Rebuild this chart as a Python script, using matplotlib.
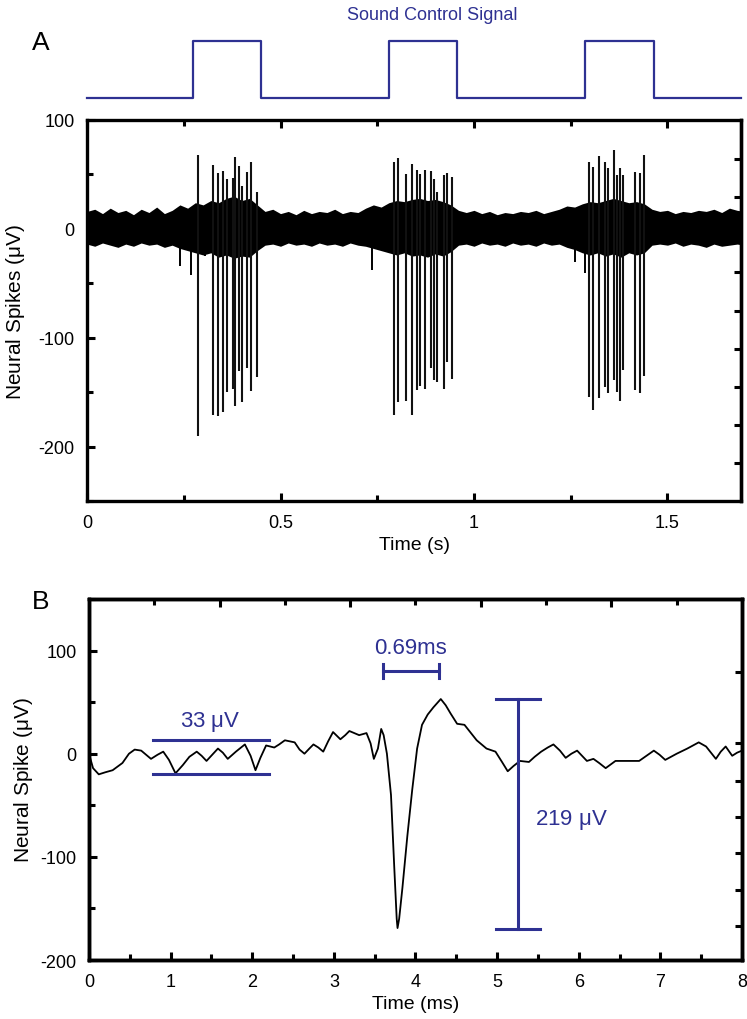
import matplotlib

matplotlib.use("Agg")
import matplotlib.pyplot as plt
from matplotlib.ticker import MultipleLocator

# ---- data ----
# sound control signal: on/off times (s)
pulse_on = [0.275, 0.78, 1.288]
pulse_off = [0.45, 0.955, 1.464]

# large spikes in panel A: time (s), positive peak, negative peak (uV)
spike_t = [0.288, 0.326, 0.338, 0.352, 0.362, 0.376, 0.383, 0.394, 0.401, 0.414, 0.425, 0.438,
           0.793, 0.803, 0.823, 0.840, 0.852, 0.860, 0.873, 0.888, 0.896, 0.904, 0.922, 0.930, 0.943,
           1.298, 1.308, 1.324, 1.339, 1.347, 1.362, 1.370, 1.378, 1.386, 1.415, 1.430, 1.440]
spike_hi = [68, 59, 51, 53, 46, 47, 66, 58, 39, 52, 61, 34,
            61, 65, 50, 60, 54, 50, 54, 53, 46, 34, 49, 51, 48,
            61, 57, 67, 61, 56, 72, 49, 56, 49, 52, 51, 68]
spike_lo = [-190, -171, -172, -168, -150, -147, -163, -131, -159, -128, -149, -136,
            -171, -159, -158, -171, -148, -144, -147, -128, -139, -141, -147, -122, -138,
            -154, -166, -155, -145, -151, -139, -150, -158, -130, -148, -151, -135]

# small deflections just before the bursts
small_t = [0.241, 0.269, 0.304, 0.736, 1.288, 1.262]
small_lo = [-34, -42, -25, -38, -41, -30]

# background noise envelope (uV)
env_t = [0.00, 0.02, 0.04, 0.06, 0.08, 0.10, 0.12, 0.14, 0.16, 0.18, 0.20, 0.22, 0.24, 0.26,
         0.28, 0.30, 0.32, 0.34, 0.36, 0.38, 0.40, 0.42, 0.44, 0.46, 0.48, 0.50, 0.52, 0.54,
         0.56, 0.58, 0.60, 0.62, 0.64, 0.66, 0.68, 0.70, 0.72, 0.74, 0.76, 0.78, 0.80, 0.82,
         0.84, 0.86, 0.88, 0.90, 0.92, 0.94, 0.96, 0.98, 1.00, 1.02, 1.04, 1.06, 1.08, 1.10,
         1.12, 1.14, 1.16, 1.18, 1.20, 1.22, 1.24, 1.26, 1.28, 1.30, 1.32, 1.34, 1.36, 1.38,
         1.40, 1.42, 1.44, 1.46, 1.48, 1.50, 1.52, 1.54, 1.56, 1.58, 1.60, 1.62, 1.64, 1.66,
         1.68, 1.70]
env_hi = [16, 18, 14, 19, 15, 17, 13, 18, 15, 20, 14, 17, 22, 19,
          24, 22, 26, 24, 28, 30, 26, 28, 22, 16, 18, 14, 16, 13,
          17, 14, 16, 15, 18, 14, 16, 15, 19, 22, 20, 24, 26, 25,
          27, 28, 26, 27, 25, 22, 17, 15, 17, 14, 16, 13, 15, 14,
          16, 15, 17, 14, 16, 18, 21, 20, 23, 25, 24, 26, 28, 26,
          24, 25, 23, 18, 16, 17, 14, 16, 15, 17, 16, 18, 15, 19,
          17, 16]
env_lo = [-14, -16, -13, -15, -17, -14, -16, -13, -15, -14, -17, -15, -18, -20,
          -22, -24, -22, -26, -24, -27, -25, -26, -20, -15, -14, -16, -13, -15,
          -14, -16, -13, -15, -14, -16, -13, -15, -16, -18, -20, -22, -24, -22,
          -25, -24, -26, -23, -25, -21, -15, -14, -16, -13, -15, -14, -16, -13,
          -15, -14, -16, -13, -15, -14, -17, -19, -22, -24, -22, -25, -23, -26,
          -22, -24, -22, -15, -14, -15, -13, -16, -14, -15, -17, -14, -16, -15,
          -14, -15]

# averaged spike waveform, panel B: time (ms), amplitude (uV)
wave_t = [0.00, 0.05, 0.12, 0.20, 0.29, 0.41, 0.49, 0.56, 0.64, 0.70, 0.76, 0.84, 0.91, 0.98,
          1.06, 1.15, 1.23, 1.32, 1.38, 1.44, 1.51, 1.58, 1.64, 1.70, 1.80, 1.91, 1.98, 2.04,
          2.10, 2.17, 2.27, 2.33, 2.40, 2.52, 2.58, 2.64, 2.70, 2.75, 2.81, 2.87, 2.93, 2.99,
          3.08, 3.14, 3.19, 3.25, 3.31, 3.40, 3.45, 3.49, 3.54, 3.58, 3.61, 3.65, 3.70, 3.74,
          3.77, 3.78, 3.80, 3.84, 3.90, 3.96, 4.02, 4.08, 4.15, 4.22, 4.31, 4.37, 4.43, 4.51,
          4.60, 4.68, 4.75, 4.87, 4.98, 5.06, 5.13, 5.20, 5.28, 5.39, 5.46, 5.54, 5.62, 5.69,
          5.77, 5.84, 5.91, 5.98, 6.04, 6.10, 6.18, 6.25, 6.33, 6.45, 6.60, 6.74, 6.83, 6.92,
          6.99, 7.06, 7.20, 7.33, 7.40, 7.47, 7.56, 7.62, 7.68, 7.74, 7.80, 7.88, 7.94, 8.00]
wave_v = [0, -14, -20, -18, -16, -9, 0, 4, 3, -1, -5, -1, 2, -6,
          -19, -11, -3, 2, -2, -7, -1, 5, 1, -5, 2, 9, -2, -16,
          -4, 8, 6, 9, 13, 11, 4, 0, 5, 9, 6, 2, 12, 21,
          14, 18, 22, 20, 18, 20, 10, -5, 5, 24, 18, 0, -40, -110,
          -160, -169, -160, -130, -80, -35, 5, 28, 38, 45, 53, 47, 39, 29,
          28, 20, 13, 5, 2, -8, -17, -12, -7, -8, -3, 2, 6, 9,
          3, -4, 0, 3, -2, -7, -5, -9, -14, -7, -7, -7, -2, 3,
          -1, -6, 0, 5, 8, 11, 7, 1, -5, 2, 7, -2, 1, 3]

# annotation values
noise_x = [0.78, 2.2]
noise_lv = [13, -20]
width_x = [3.6, 4.29]
width_y = 80
amp_x = 5.26
amp_lv = [53, -170]

NAVY = "#2e3192"
NARROW = ["Liberation Sans Narrow", "Liberation Sans", "DejaVu Sans"]
plt.rcParams["font.family"] = ["Liberation Sans", "DejaVu Sans"]
plt.rcParams["mathtext.default"] = "regular"
plt.rcParams["axes.unicode_minus"] = False


def style_axes(ax):
    for s in ax.spines.values():
        s.set_linewidth(2.4)
    ax.tick_params(which="both", direction="in", top=True, width=2.2, pad=9,
                   labelsize=13)
    ax.tick_params(which="major", length=6)
    ax.tick_params(which="minor", length=4)
    for lab in ax.get_xticklabels() + ax.get_yticklabels():
        lab.set_fontfamily(NARROW)


fig = plt.figure(figsize=(7.47, 10.2), dpi=100)

# ---- sound control signal ----
ax_s = fig.add_axes([0.1165, 0.9029, 0.8755, 0.0559])
sig_t = [0.0]
sig_v = [0.0]
for on, off in zip(pulse_on, pulse_off):
    sig_t += [on, on, off, off]
    sig_v += [0.0, 1.0, 1.0, 0.0]
sig_t.append(1.69)
sig_v.append(0.0)
ax_s.plot(sig_t, sig_v, color=NAVY, lw=1.6, clip_on=False)
ax_s.set_xlim(0, 1.69)
ax_s.set_ylim(0, 1)
ax_s.axis("off")
fig.text(0.578, 0.985, "Sound Control Signal", color=NAVY, fontsize=13,
         family=NARROW, ha="center", va="center")
fig.text(0.054, 0.958, "A", fontsize=19, ha="center", va="center")

# ---- panel A ----
ax_a = fig.add_axes([0.1165, 0.5078, 0.8755, 0.3736])
ax_a.fill_between(env_t, env_lo, env_hi, color="black", lw=0)
ax_a.vlines(spike_t, spike_lo, spike_hi, color="#111111", lw=1.5)
ax_a.vlines(small_t, [0] * len(small_t), small_lo, color="black", lw=1.4)
ax_a.set_xlim(0, 1.69)
ax_a.set_ylim(-250, 100)
ax_a.xaxis.set_major_locator(MultipleLocator(0.5))
ax_a.xaxis.set_minor_locator(MultipleLocator(0.25))
ax_a.yaxis.set_major_locator(MultipleLocator(100))
ax_a.yaxis.set_minor_locator(MultipleLocator(50))
ax_a.set_xticks([0, 0.5, 1, 1.5], ["0", "0.5", "1", "1.5"])
ax_a.tick_params(right=False)
style_axes(ax_a)
ax_a.set_xlabel("Time (s)", fontsize=14, family=NARROW, labelpad=4)
ax_a.set_ylabel(r"Neural Spikes ($\mu$V)", fontsize=15, labelpad=8)
ax_ar = ax_a.twinx()
ax_ar.set_ylim(-250, 100)
ax_ar.set_yticks([64, 29, -6, -40, -75, -110, -145, -180, -215])
ax_ar.tick_params(direction="in", width=2.2, length=5, labelright=False)
ax_ar.spines["right"].set_linewidth(2.4)

# ---- panel B ----
ax_b = fig.add_axes([0.1191, 0.0578, 0.8742, 0.354])
ax_b.plot(wave_t, wave_v, color="black", lw=1.3)
ax_b.set_xlim(0, 8)
ax_b.set_ylim(-200, 150)
ax_b.xaxis.set_major_locator(MultipleLocator(1))
ax_b.xaxis.set_minor_locator(MultipleLocator(0.5))
ax_b.yaxis.set_major_locator(MultipleLocator(100))
ax_b.yaxis.set_minor_locator(MultipleLocator(50))
style_axes(ax_b)
ax_b.tick_params(which="both", top=False, right=False)
ax_b.set_xlabel("Time (ms)", fontsize=14, family=NARROW, labelpad=4)
ax_b.set_ylabel(r"Neural Spike ($\mu$V)", fontsize=15, labelpad=4)
ax_bt = ax_b.twiny()
ax_bt.set_xlim(0, 8)
ax_bt.set_xticks([1.6, 3.2, 4.8, 6.4])
ax_bt.set_xticks([0.8, 2.4, 4.0, 5.6, 7.2], minor=True)
ax_bt.tick_params(which="both", direction="in", width=2.2, labeltop=False)
ax_bt.tick_params(which="major", length=6)
ax_bt.tick_params(which="minor", length=4)
ax_br = ax_b.twinx()
ax_br.set_ylim(-200, 150)
ax_br.set_yticks([79, 10, -26, -61, -96, -132, -167])
ax_br.tick_params(direction="in", width=2.2, length=5, labelright=False)
for a in (ax_bt, ax_br):
    for s in a.spines.values():
        s.set_linewidth(2.4)

# noise bracket
for lv in noise_lv:
    ax_b.plot(noise_x, [lv, lv], color=NAVY, lw=2.2)
ax_b.text(sum(noise_x) / 2, 32, r"33 $\mu$V", color=NAVY, fontsize=16,
          family=NARROW, ha="center", va="center")
# width bar
ax_b.plot(width_x, [width_y, width_y], color=NAVY, lw=2.2)
for wx in width_x:
    ax_b.plot([wx, wx], [width_y - 7, width_y + 7], color=NAVY, lw=2.2)
ax_b.text(sum(width_x) / 2, 103, "0.69ms", color=NAVY, fontsize=16,
          family=NARROW, ha="center", va="center")
# amplitude bar
ax_b.plot([amp_x, amp_x], amp_lv, color=NAVY, lw=2.2)
for lv in amp_lv:
    ax_b.plot([amp_x - 0.27, amp_x + 0.27], [lv, lv], color=NAVY, lw=2.2)
ax_b.text(amp_x + 0.2, -63, r"219 $\mu$V", color=NAVY, fontsize=16,
          family=NARROW, ha="left", va="center")
fig.text(0.054, 0.41, "B", fontsize=19, ha="center", va="center")

fig.savefig("out.png", dpi=100)
